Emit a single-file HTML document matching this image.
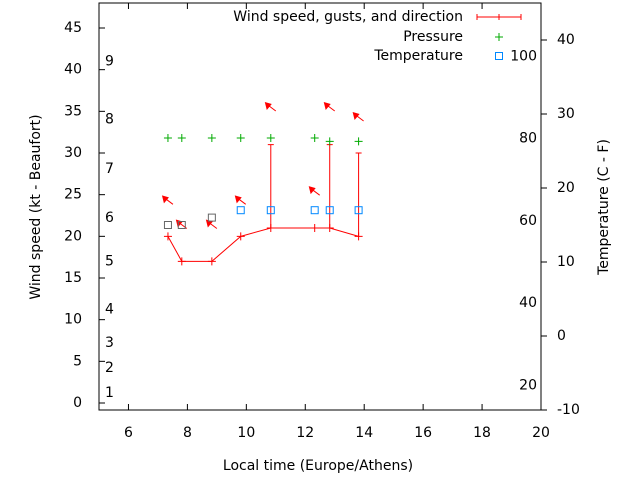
<!DOCTYPE html>
<html><head><meta charset="utf-8"><style>
body{margin:0;background:#fff}
svg{display:block;font-family:"DejaVu Sans","Liberation Sans",sans-serif;font-size:14px}
</style></head><body>
<svg id="c" width="640" height="480" xmlns="http://www.w3.org/2000/svg"></svg>
<script>
const hours=[7.34,7.81,8.83,9.81,10.83,12.32,12.83,13.81];
const wind=[20,17,17,20,21,21,21,20];
const gusts=[null,null,null,null,31,null,31,30];
const pressureY=[31.8,31.8,31.8,31.8,31.8,31.8,31.4,31.4];
const tempC=[15,15,16,17,17,17,17,17];
const tempGrey=[true,true,true,false,false,false,false,false];
const arrowY=[24.2,21.3,21.3,24.2,35.4,25.3,35.4,34.2];
const xTicks=[6,8,10,12,14,16,18,20];
const yTicks=[0,5,10,15,20,25,30,35,40,45];
const cTicks=[-10,0,10,20,30,40];
const fTicks=[20,40,60,80,100];
const beaufortLabels=["1","2","3","4","5","6","7","8","9"];
const beaufortKt=[1.2,4.2,7.2,11.2,17,22.2,28.1,34,41];

const L=99,R=541,T=3,B=410;
const X=h=>L+(h-5)*(R-L)/15;
const Y=v=>403-v*(403-28)/45;
const YC=c=>410-(c+10)*7.4;
const svg=document.getElementById('c');
const NS='http://www.w3.org/2000/svg';
function mk(tag,attrs,name,parent){const e=document.createElementNS(NS,tag);for(const k in attrs)e.setAttribute(k,attrs[k]);


(parent||svg).appendChild(e);return e;}
function txt(x,y,s,anchor,name,extra){const t=mk('text',Object.assign({x:x,y:y,'text-anchor':anchor||'middle','dominant-baseline':'middle',fill:'#000'},extra||{}),name);t.textContent=s;return t;}

mk('rect',{x:L,y:T,width:R-L,height:B-T,fill:'none',stroke:'#000','stroke-width':1},'plot-border');
xTicks.forEach(h=>{const x=X(h);
 mk('line',{x1:x,y1:B,x2:x,y2:B-6,stroke:'#000'},'x-tick');
 mk('line',{x1:x,y1:T,x2:x,y2:T+6,stroke:'#000'},'x-tick-top');
 txt(x,433,String(h),'middle','x-tick-label');});
yTicks.forEach(v=>{const y=Y(v);
 mk('line',{x1:L,y1:y,x2:L+6,y2:y,stroke:'#000'},'y-tick');
 txt(82,y,String(v),'end','y-tick-label');});
cTicks.forEach(c=>{const y=YC(c);
 mk('line',{x1:R,y1:y,x2:R+6,y2:y,stroke:'#000'},'right-tick');
 txt(557,y,String(c),'start','celsius-tick-label');});
fTicks.forEach(f=>{const y=YC((f-32)*5/9);txt(537,y,String(f),'end','fahrenheit-tick-label');});
beaufortLabels.forEach((s,i)=>txt(105,Y(beaufortKt[i]),s,'start','beaufort-label'));

txt(318,466,'Local time (Europe/Athens)','middle','x-axis-title');
txt(36,207,'Wind speed (kt - Beaufort)','middle','y-axis-title',{transform:'rotate(-90 36 207)'});
txt(604,207,'Temperature (C - F)','middle','right-axis-title',{transform:'rotate(-90 604 207)'});

let d='';hours.forEach((h,i)=>{d+=(i?'L':'M')+X(h)+' '+Y(wind[i]);});
mk('path',{d:d,fill:'none',stroke:'#f00'},'wind-line');
hours.forEach((h,i)=>{const x=X(h),y=Y(wind[i]);
 mk('path',{d:`M${x-4} ${y}H${x+4}M${x} ${y-4}V${y+4}`,stroke:'#f00'},'wind-point');
 if(gusts[i]!=null){const g=Y(gusts[i]);
  mk('path',{d:`M${x} ${y}V${g}M${x-3} ${g}H${x+3}`,stroke:'#f00'},'gust-bar');}
 const ay=Y(arrowY[i]);
 mk('line',{x1:x-3,y1:ay-3,x2:x+5,y2:ay+3,stroke:'#f00'},'direction-arrow-shaft');
 mk('polygon',{points:`${x-6},${ay-6} ${x+1},${ay-4} ${x-4},${ay+2}`,fill:'#f00'},'direction-arrow-head');
 const py=Y(pressureY[i]);
 mk('path',{d:`M${x-4} ${py}H${x+4}M${x} ${py-4}V${py+4}`,stroke:'#0a0'},'pressure-point');
 const ty=YC(tempC[i]);
 mk('rect',{x:x-3.5,y:ty-3.5,width:7,height:7,fill:'none',stroke:tempGrey[i]?'#666':'#08f'},'temperature-point');
});
txt(463,17,'Wind speed, gusts, and direction','end','legend-wind-label');
mk('path',{d:'M477 17H521M477 14V20M521 14V20M499 14V20',stroke:'#f00'},'legend-wind-sample');
txt(463,37,'Pressure','end','legend-pressure-label');
mk('path',{d:'M495 37H503M499 33V41',stroke:'#0a0'},'legend-pressure-sample');
txt(463,56,'Temperature','end','legend-temperature-label');
mk('rect',{x:495.5,y:52.5,width:7,height:7,fill:'none',stroke:'#08f'},'legend-temperature-sample');
</script>
</body></html>
